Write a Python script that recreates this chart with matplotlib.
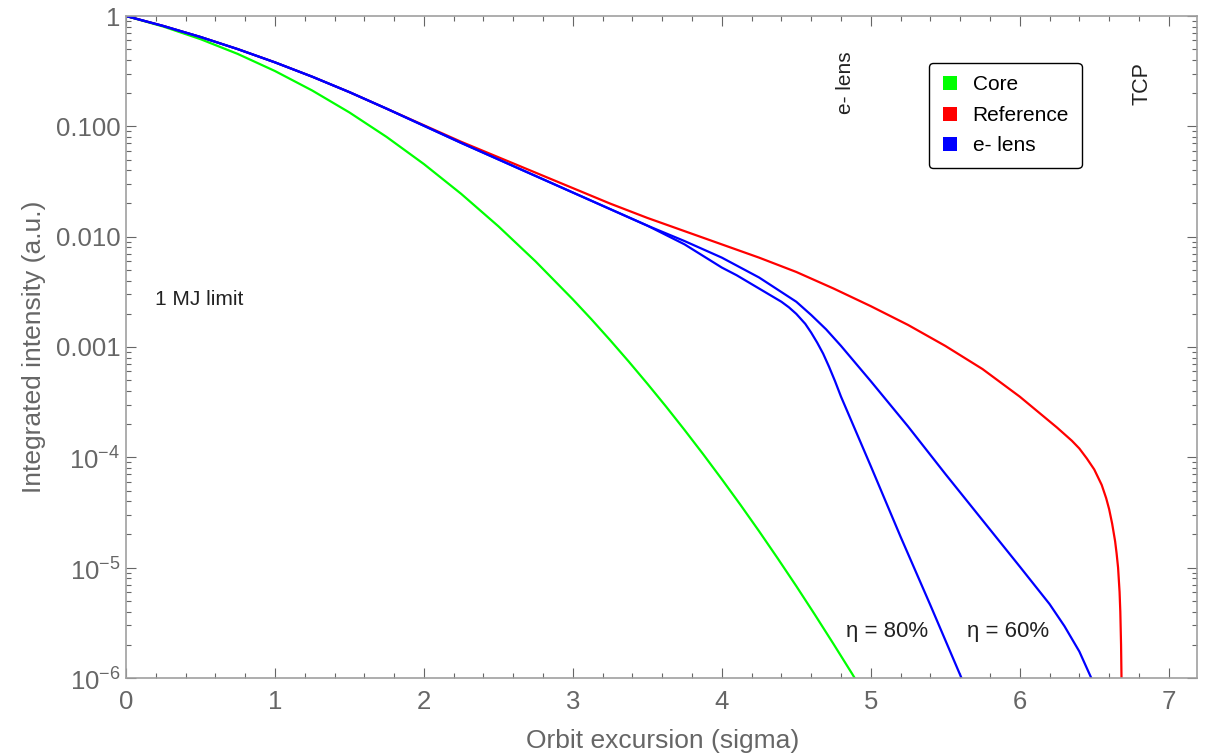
import matplotlib
matplotlib.use("Agg")
import matplotlib.pyplot as plt
from matplotlib.lines import Line2D
from matplotlib.ticker import FixedLocator, LogLocator, NullFormatter
import numpy as np

plt.rcParams['font.family'] = ['Liberation Sans', 'DejaVu Sans']
plt.rcParams['mathtext.fontset'] = 'custom'
plt.rcParams['mathtext.rm'] = 'Liberation Sans'

# --- beam halo profiles, x in sigma ---
core_x = [0, 0.25, 0.5, 0.75, 1.0, 1.25, 1.5, 1.75, 2.0, 2.25, 2.5, 2.75,
          3.0, 3.125, 3.25, 3.375, 3.5, 3.625, 3.75, 3.875, 4.0, 4.125,
          4.25, 4.375, 4.5, 4.625, 4.75, 4.875, 5.0]
core_y = [1.0, 0.8026, 0.6171, 0.4533, 0.3173, 0.2113, 0.1336, 0.0801,
          0.0455, 0.02445, 0.01242, 0.00596, 0.0027, 1.78e-3, 1.154e-3,
          7.38e-4, 4.65e-4, 2.89e-4, 1.768e-4, 1.066e-4, 6.33e-5, 3.71e-5,
          2.14e-5, 1.214e-5, 6.8e-6, 3.74e-6, 2.03e-6, 1.09e-6, 5.7e-7]

# log10 of integrated intensity for the reference and e-lens cases
ref_x = [0, 0.25, 0.5, 0.75, 1.0, 1.25, 1.5, 1.75, 2.0, 2.25, 2.5, 2.75,
         3.0, 3.25, 3.5, 3.75, 4.0, 4.25, 4.5, 4.75, 5.0, 5.25, 5.5, 5.75,
         6.0, 6.25, 6.3, 6.35, 6.4, 6.45, 6.5, 6.55, 6.58, 6.6, 6.62, 6.64,
         6.65, 6.66, 6.67, 6.675, 6.68, 6.685, 6.69]
ref_log = [0, -0.09, -0.19, -0.30, -0.42, -0.55, -0.69, -0.84, -0.99,
           -1.14, -1.28, -1.42, -1.56, -1.70, -1.83, -1.95, -2.07, -2.19,
           -2.32, -2.47, -2.63, -2.80, -2.99, -3.20, -3.45, -3.73, -3.79,
           -3.85, -3.92, -4.01, -4.11, -4.25, -4.37, -4.47, -4.60, -4.76,
           -4.87, -5.0, -5.22, -5.4, -5.7, -6.2, -7.0]

lens60_x = [0, 0.25, 0.5, 0.75, 1.0, 1.25, 1.5, 1.75, 2.0, 2.25, 2.5, 2.75,
            3.0, 3.25, 3.5, 3.75, 4.0, 4.25, 4.5, 4.6, 4.7, 4.8, 4.9, 5.0,
            5.25, 5.5, 5.75, 6.0, 6.2, 6.3, 6.4, 6.49]
lens60_log = [0, -0.09, -0.19, -0.30, -0.42, -0.55, -0.69, -0.84, -0.995,
              -1.15, -1.30, -1.45, -1.60, -1.75, -1.90, -2.04, -2.19, -2.37,
              -2.59, -2.71, -2.84, -2.99, -3.15, -3.31, -3.72, -4.15, -4.57,
              -4.99, -5.33, -5.53, -5.76, -6.03]

lens80_x = [0, 0.25, 0.5, 0.75, 1.0, 1.25, 1.5, 1.75, 2.0, 2.25, 2.5, 2.75,
            3.0, 3.25, 3.5, 3.75, 4.0, 4.1, 4.2, 4.3, 4.4, 4.45, 4.5, 4.56,
            4.6, 4.64, 4.68, 4.72, 4.76, 4.8, 5.0, 5.2, 5.4, 5.615]
lens80_log = [0, -0.09, -0.19, -0.30, -0.42, -0.55, -0.69, -0.84, -0.995,
              -1.15, -1.30, -1.45, -1.60, -1.75, -1.90, -2.07, -2.28, -2.35,
              -2.43, -2.51, -2.59, -2.64, -2.70, -2.79, -2.87, -2.96, -3.06,
              -3.18, -3.31, -3.45, -4.08, -4.72, -5.34, -6.02]

ytick_vals = [1, 0.1, 0.01, 0.001, 1e-4, 1e-5, 1e-6]
ytick_labels = ['1', '0.100', '0.010', '0.001',
                r'$10^{-4}$', r'$10^{-5}$', r'$10^{-6}$']
xtick_vals = [0, 1, 2, 3, 4, 5, 6, 7]

green, red, blue = '#00ff00', '#ff0000', '#0000ff'
grey = '#666666'

fig = plt.figure(figsize=(12.16, 7.55), dpi=100)
ax = fig.add_axes([0.1036, 0.1020, 0.8808, 0.8768])

ax.plot(core_x, core_y, color=green, lw=1.6)
ax.plot(ref_x, 10.0 ** np.array(ref_log), color=red, lw=1.6)
ax.plot(lens60_x, 10.0 ** np.array(lens60_log), color=blue, lw=1.6)
ax.plot(lens80_x, 10.0 ** np.array(lens80_log), color=blue, lw=1.6)

ax.set_yscale('log')
ax.set_xlim(0, 7.19)
ax.set_ylim(1e-6, 1)

ax.yaxis.set_major_locator(FixedLocator(ytick_vals))
ax.set_yticklabels(ytick_labels)
ax.yaxis.set_minor_locator(LogLocator(base=10, subs=np.arange(2, 10)))
ax.yaxis.set_minor_formatter(NullFormatter())
ax.set_xticks(xtick_vals)
ax.set_xticks(np.arange(0, 7.2, 0.2), minor=True)

ax.tick_params(which='both', direction='in', top=True, right=True,
               color=grey, width=0.8, labelcolor=grey, labelsize=18.5)
ax.tick_params(which='major', length=7)
ax.tick_params(which='minor', length=3.8)
ax.tick_params(axis='x', pad=9)
ax.tick_params(axis='y', pad=4)
for sp in ax.spines.values():
    sp.set_color('#a0a0a0')
    sp.set_linewidth(1.2)

ax.set_xlabel('Orbit excursion (sigma)', fontsize=19, color=grey, va='center')
ax.xaxis.set_label_coords(0.501, -0.095)
ax.set_ylabel('Integrated intensity (a.u.)', fontsize=19, color=grey,
              va='center')
ax.yaxis.set_label_coords(-0.086, 0.5)

# annotations
txt = '#222222'
ax.text(0.195, 10 ** -2.574, '1 MJ limit', fontsize=15, color=txt,
        ha='left', va='center')
ax.text(4.83, 10 ** -0.6, 'e- lens', fontsize=15, color=txt, rotation=90,
        ha='center', va='center')
ax.text(6.82, 10 ** -0.61, 'TCP', fontsize=15.5, color=txt, rotation=90,
        ha='center', va='center')
ax.text(5.107, 10 ** -5.583, 'η = 80%', fontsize=16, color=txt,
        ha='center', va='center')
ax.text(5.92, 10 ** -5.583, 'η = 60%', fontsize=16, color=txt,
        ha='center', va='center')

handles = [Line2D([], [], ls='', marker='s', markersize=9.5, color=c,
                  markeredgewidth=0) for c in (green, red, blue)]
leg = fig.legend(handles, ['Core', 'Reference', 'e- lens'],
                 loc='upper left', bbox_to_anchor=(929 / 1216, 1 - 63 / 755),
                 fontsize=15, frameon=True, fancybox=True, framealpha=1,
                 edgecolor='black', handlelength=0.8, handletextpad=0.7,
                 labelspacing=0.55, borderpad=0.6, borderaxespad=0)
leg.get_frame().set_linewidth(1.0)

fig.savefig('out.png', dpi=100)
